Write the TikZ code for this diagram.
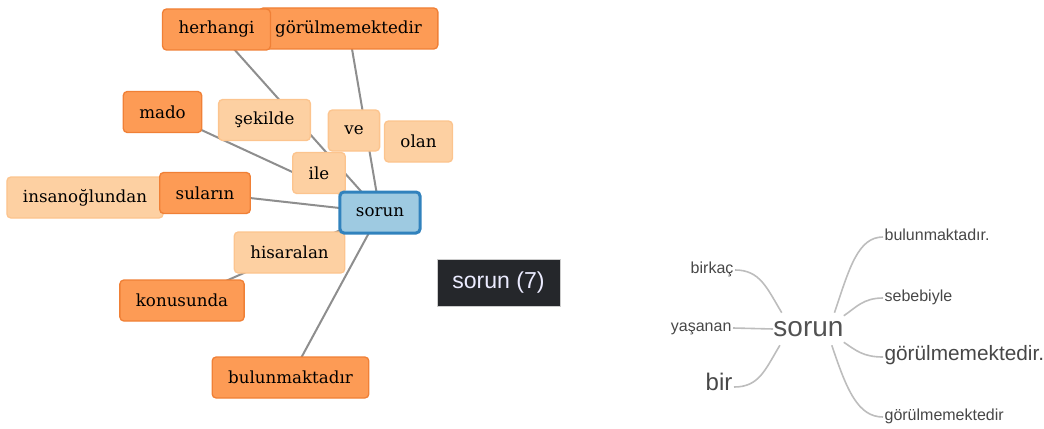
\documentclass[tikz,border=0pt]{standalone}
\usepackage{fontspec}
\setmainfont{DejaVu Serif}
\setsansfont{Liberation Sans}
\usetikzlibrary{backgrounds}

\begin{document}
\begin{tikzpicture}[x=0.75pt,y=-0.75pt]

% Define word colors
\definecolor{hubfill}{HTML}{9ECAE1}
\definecolor{hubedge}{HTML}{3182BD}
\definecolor{strongfill}{HTML}{FD9B55}
\definecolor{strongedge}{HTML}{F08036}
\definecolor{weakfill}{HTML}{FDD0A2}
\definecolor{weakedge}{HTML}{FCC48E}
\definecolor{linkgray}{HTML}{8E8E8E}
\definecolor{treegray}{HTML}{BDBDBD}
\definecolor{tipdark}{HTML}{25272B}

\useasboundingbox (0,0) rectangle (1044,428);

% word network
\begin{scope}[every node/.style={rounded corners=3pt, minimum height=30.75pt, inner xsep=12pt, line width=1pt, font=\fontsize{12.5}{15}\selectfont},
strong/.style={fill=strongfill, draw=strongedge},
weak/.style={fill=weakfill, draw=weakedge},
hub/.style={fill=hubfill, draw=hubedge, line width=2.25pt},
link/.style={draw=linkgray, line width=1.5pt}]
\node [strong] (gorulme) at (348.5,28.5) {görülmemektedir};
\node [strong] (herhangi) at (216.5,29.5) {herhangi};
\node [strong] (mado) at (162.5,112) {mado};
\node [weak] (sekilde) at (264.5,120) {şekilde};
\node [weak] (ve) at (354,130.5) {ve};
\node [weak] (olan) at (418.5,141.5) {olan};
\node [weak] (ile) at (319,173) {ile};
\node [weak] (insan) at (85,197.5) {insanoğlundan};
\node [strong] (sularin) at (205,193) {suların};
\node [weak] (hisar) at (289.5,252.5) {hisaralan};
\node [strong] (konusunda) at (182,300.5) {konusunda};
\node [strong] (bulunma) at (290.5,377.5) {bulunmaktadır};
\node [hub] (sorun) at (380,212.5) {sorun};
\begin{pgfonlayer}{background}
\foreach \w in {herhangi,gorulme,mado,sularin,konusunda,bulunma}
    \draw [link] (sorun.center) -- (\w.center);
\end{pgfonlayer}
\end{scope}

% hover label
\node [fill=tipdark, draw=gray!40, minimum width=92.25pt, minimum height=35.25pt, text=white!92!blue, font=\sffamily\fontsize{17.3}{20}\selectfont] (tip) at (498.5,282.5) {sorun (7)};

% word tree
\begin{scope}[every node/.style={inner sep=1pt, text=black!72, font=\sffamily\fontsize{12}{14}\selectfont},
big/.style={font=\sffamily\fontsize{15.6}{18}\selectfont},
branch/.style={draw=treegray, line width=1.2pt}]
\node [inner sep=0, minimum width=52.5pt, minimum height=24pt, text=black!68, font=\sffamily\fontsize{21}{24}\selectfont] (root) at (808.5,329) {sorun};
\node [anchor=mid east] (birkac) at (735,270) {birkaç};
\node [anchor=mid east] (yasanan) at (733,328) {yaşanan};
\node [anchor=mid east, font=\sffamily\fontsize{18}{21}\selectfont] (bir) at (734,387) {bir};
\node [anchor=mid west] (bulun) at (883,237) {bulunmaktadır.};
\node [anchor=mid west] (sebeb) at (883,298) {sebebiyle};
\node [anchor=mid west, big] (gorA) at (883,357) {görülmemektedir.};
\node [anchor=mid west] (gorB) at (883,417) {görülmemektedir};
\draw [branch] (birkac.mid east) .. controls +(25,0) and +(-15,-25) .. ([xshift=6.4pt]root.north west);
\draw [branch] (yasanan.mid east) -- (root.west);
\draw [branch] (bir.mid east) .. controls +(25,0) and +(-15,25) .. ([xshift=5pt]root.south west);
\draw [branch] (bulun.mid west) .. controls +(-25,0) and +(15,-45) .. ([xshift=-7pt]root.north east);
\draw [branch] (sebeb.mid west) .. controls +(-20,0) and +(12,-8) .. ([yshift=-2.25pt]root.north east);
\draw [branch] (gorA.mid west) .. controls +(-20,0) and +(12,8) .. ([yshift=2.25pt]root.south east);
\draw [branch] (gorB.mid west) .. controls +(-25,0) and +(15,45) .. ([xshift=-9pt]root.south east);
\end{scope}
\end{tikzpicture}
\end{document}
